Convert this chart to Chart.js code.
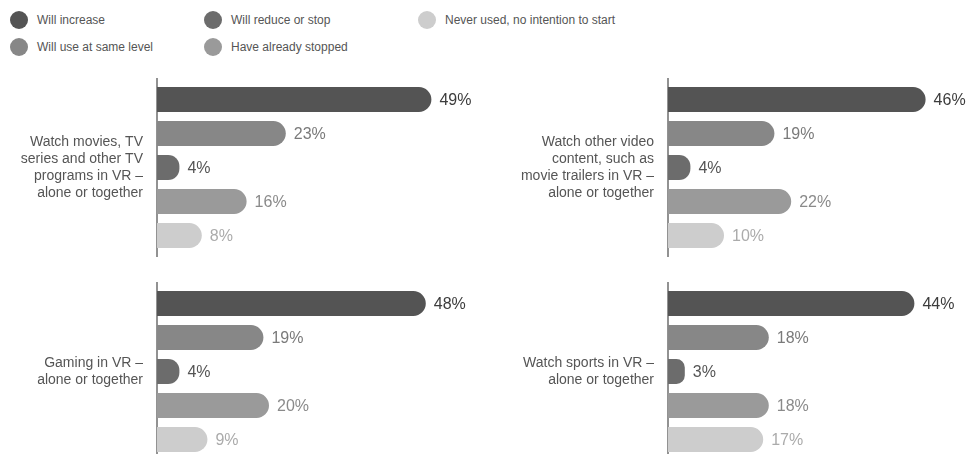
<!DOCTYPE html>
<html>
<head>
<meta charset="utf-8">
<script src="https://cdn.jsdelivr.net/npm/chart.js@4"></script>
<style>
  body { margin: 0; background: #fff; width: 969px; height: 454px; overflow: hidden; position: relative; font-family: "Liberation Sans", Arial, sans-serif; }
  canvas { position: absolute; }
  .leg { position: absolute; font-size: 12px; color: #555; white-space: nowrap; line-height: 18px; }
  .leg span.dot { position: absolute; left: 0; top: 0; width: 18px; height: 18px; border-radius: 50%; }
  .leg span.txt { margin-left: 27px; }
</style>
</head>
<body>
<div id="legend"></div>
<canvas id="c1" width="484" height="185" style="left:0;top:75px"></canvas>
<canvas id="c2" width="485" height="185" style="left:484px;top:75px"></canvas>
<canvas id="c3" width="484" height="185" style="left:0;top:279px"></canvas>
<canvas id="c4" width="485" height="185" style="left:484px;top:279px"></canvas>
<script>
// series (same order as the bars, top to bottom)
const seriesNames = ['Will increase', 'Will use at same level', 'Will reduce or stop', 'Have already stopped', 'Never used, no intention to start'];
const barColors = ['#545454', '#878787', '#6c6c6c', '#9a9a9a', '#cdcdcd'];
const valueColors = ['#3c3c3c', '#7a7a7a', '#555555', '#8a8a8a', '#ababab'];

// panels
const moviesLabel = ['Watch movies, TV', 'series and other TV', 'programs in VR –', 'alone or together'];
const moviesValues = [49, 23, 4, 16, 8];
const videoLabel = ['Watch other video', 'content, such as', 'movie trailers in VR –', 'alone or together'];
const videoValues = [46, 19, 4, 22, 10];
const gamingLabel = ['Gaming in VR –', 'alone or together'];
const gamingValues = [48, 19, 4, 20, 9];
const sportsLabel = ['Watch sports in VR –', 'alone or together'];
const sportsValues = [44, 18, 3, 18, 17];

const FONT = '"Liberation Sans", Arial, sans-serif';
const PX_PER_PCT = 5.6;

// legend, laid out column by column
const legendCols = [10, 204, 418];
const legendRows = [11, 38];
const legendEl = document.getElementById('legend');
seriesNames.forEach((name, i) => {
    const d = document.createElement('div');
    d.className = 'leg';
    d.style.left = legendCols[Math.floor(i / 2)] + 'px';
    d.style.top = legendRows[i % 2] + 'px';
    d.innerHTML = `<span class="dot" style="background:${barColors[i]}"></span><span class="txt">${name}</span>`;
    legendEl.appendChild(d);
});

// value labels at the end of each bar
const valueLabels = {
    id: 'valueLabels',
    afterDatasetsDraw(chart) {
        const ctx = chart.ctx;
        ctx.save();
        ctx.font = '16px ' + FONT;
        ctx.textBaseline = 'middle';
        ctx.textAlign = 'left';
        chart.data.datasets.forEach((ds, i) => {
            const bar = chart.getDatasetMeta(i).data[0];
            ctx.fillStyle = valueColors[i];
            ctx.fillText(ds.data[0] + '%', bar.x + 8, bar.y + 1);
        });
        ctx.restore();
    }
};

function makePanel(id, label, values, axisWidth) {
    const canvas = document.getElementById(id);
    const xMax = (canvas.width - axisWidth) / PX_PER_PCT;
    new Chart(canvas, {
        type: 'bar',
        data: {
            labels: [label],
            datasets: seriesNames.map((name, i) => ({
                label: name,
                data: [values[i]],
                backgroundColor: barColors[i],
                borderRadius: 13,
                borderSkipped: 'start',
                barPercentage: 0.735,
                categoryPercentage: 0.96
            }))
        },
        options: {
            indexAxis: 'y',
            responsive: false,
            animation: false,
            layout: { padding: { top: 4, bottom: 4, left: 0, right: 0 } },
            plugins: { legend: { display: false }, tooltip: { enabled: false } },
            scales: {
                x: { display: false, min: 0, max: xMax },
                y: {
                    grid: { display: false, drawTicks: false },
                    border: { color: '#929292', width: 2 },
                    ticks: { font: { family: FONT, size: 14, lineHeight: 1.2 }, color: '#555', padding: 14 },
                    afterFit: s => {
                        s.width = axisWidth;
                        // the tall multi-line label must not shrink the plot area
                        s.paddingTop = 0;
                        s.paddingBottom = 0;
                    }
                }
            }
        },
        plugins: [valueLabels]
    });
}

makePanel('c1', moviesLabel, moviesValues, 157);
makePanel('c2', videoLabel, videoValues, 184);
makePanel('c3', gamingLabel, gamingValues, 157);
makePanel('c4', sportsLabel, sportsValues, 184);
</script>
</body>
</html>
